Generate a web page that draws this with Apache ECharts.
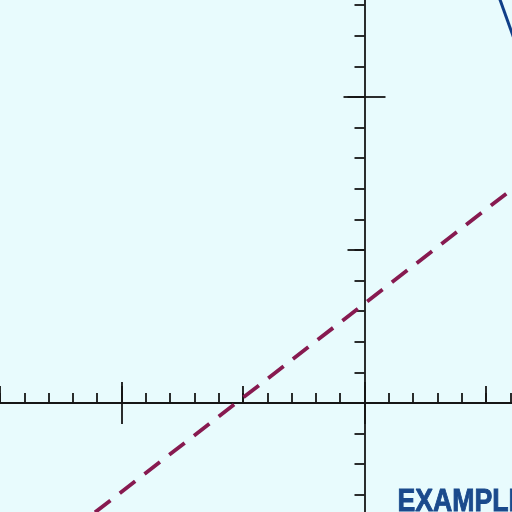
<!DOCTYPE html>
<html>
<head>
<meta charset="utf-8">
<script src="https://cdn.jsdelivr.net/npm/echarts@6/dist/echarts.min.js"></script>
<style>
html,body{margin:0;padding:0;background:#e8fbfd;}
#c{width:512px;height:512px;}
</style>
</head>
<body>
<div id="c"></div>
<script>
// Data (axis units: minor tick = 0.1, major = 1)
const dashedLineX = [-1.5, 0.65];
const dashedLineY = [-0.598, 0.725];
const blueCurveX = [0.545, 0.62];
const blueCurveY = [1.346, 1.18];
const labelText = 'EXAMPLE';

const xMin = -2, xMax = 1, yMin = -1, yMax = 2;
const axisColor = '#161616';

const chart = echarts.init(document.getElementById('c'), null, {renderer: 'canvas'});

// grid geometry: x 243 px per unit with 0 at 364.5, y 306 px per unit with 0 at 403
const gridBox = {left: -121.5, top: -209, width: 729, height: 918, outerBoundsMode: 'none', containLabel: false};
const grids = [0,1,2,3].map(() => Object.assign({}, gridBox));

function xAx(i, interval, inside, len, showLine) {
  return {
    type: 'value', gridIndex: i, min: xMin, max: xMax, interval: interval,
    axisLine: {show: showLine, onZero: true, lineStyle: {color: axisColor, width: 1.8}},
    axisTick: {show: true, inside: inside, length: len, lineStyle: {color: axisColor, width: 1.8}},
    axisLabel: {show: false}, splitLine: {show: false}
  };
}
function yAx(i, interval, inside, len, showLine) {
  return {
    type: 'value', gridIndex: i, min: yMin, max: yMax, interval: interval,
    axisLine: {show: showLine, onZero: true, lineStyle: {color: axisColor, width: 1.8}},
    axisTick: {show: true, inside: inside, length: len, lineStyle: {color: axisColor, width: 1.8}},
    axisLabel: {show: false}, splitLine: {show: false}
  };
}

const option = {
  backgroundColor: '#e8fbfd',
  animation: false,
  grid: grids,
  xAxis: [
    xAx(0, 0.1, true, 10, true),
    xAx(1, 0.5, true, 17, false),
    xAx(2, 1, true, 21, false),
    xAx(3, 1, false, 21, false)
  ],
  yAxis: [
    yAx(0, 0.1, false, 10, true),
    yAx(1, 0.5, false, 17, false),
    yAx(2, 1, false, 21, false),
    yAx(3, 1, true, 21, false)
  ],
  series: [
    {
      type: 'line', xAxisIndex: 0, yAxisIndex: 0, symbol: 'none',
      data: dashedLineX.map((x, i) => [x, dashedLineY[i]]),
      lineStyle: {color: '#871a50', width: 3.8, type: [19.5, 11.8], dashOffset: 5, cap: 'butt'}
    },
    {
      type: 'line', xAxisIndex: 0, yAxisIndex: 0, symbol: 'none',
      data: blueCurveX.map((x, i) => [x, blueCurveY[i]]),
      lineStyle: {color: '#0f3f88', width: 3}
    }
  ],
  graphic: [{
    type: 'text', x: 397.5, y: 487, scaleX: 0.86, originX: 0, originY: 0,
    style: {
      text: labelText,
      fill: '#1a4a8c',
      stroke: '#1a4a8c',
      lineWidth: 0.9,
      font: 'bold 31px "Liberation Sans", Arial, sans-serif'
    }
  }]
};
chart.setOption(option);
</script>
</body>
</html>
